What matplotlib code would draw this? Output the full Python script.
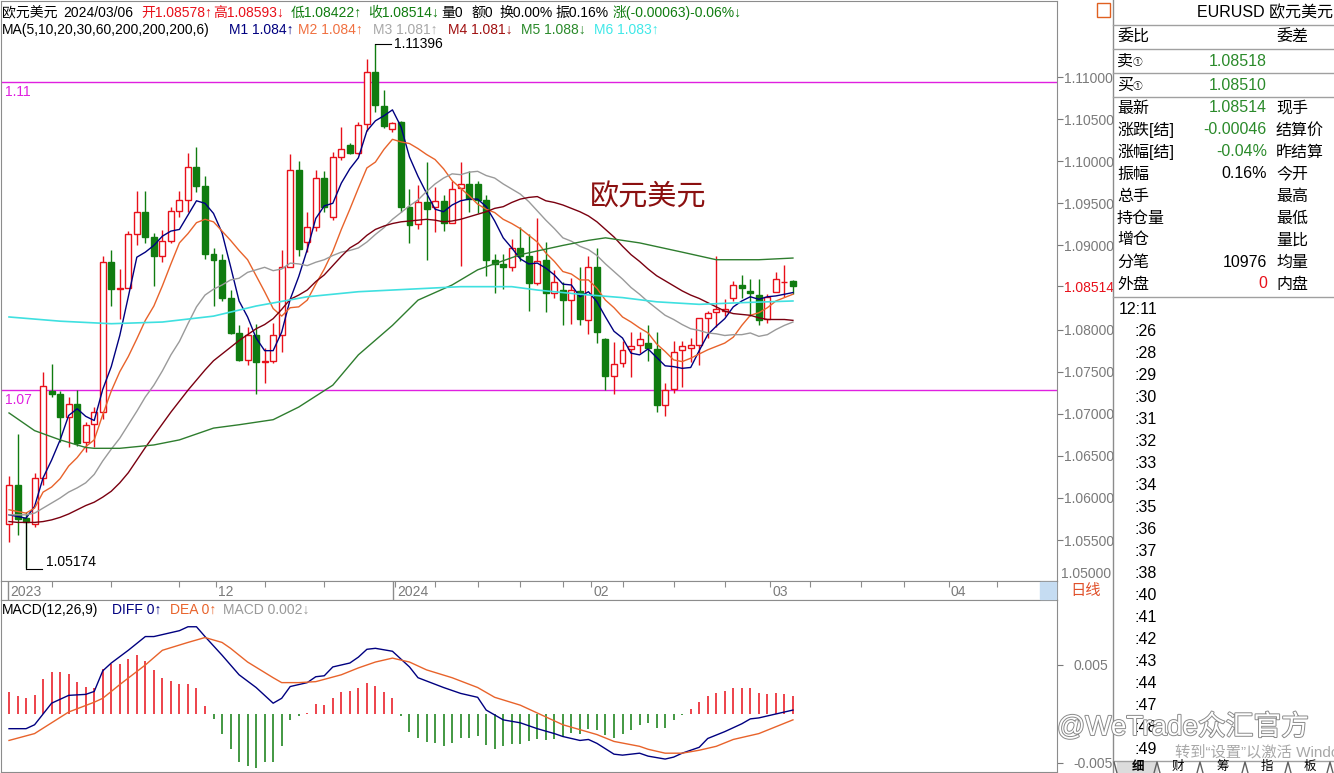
import matplotlib.pyplot as plt
import matplotlib.patheffects as pe
from matplotlib.lines import Line2D
from matplotlib.patches import Rectangle
import numpy as np

plt.rcParams['font.family'] = ['Liberation Sans', 'Noto Sans CJK SC', 'DejaVu Sans']

# daily candles, 2023-10-30 .. 2024-03-06
opens = [1.0569, 1.0615, 1.0576, 1.0569, 1.0624, 1.0727, 1.0724, 1.0696, 1.0712, 1.0667,
         1.0688, 1.0702, 1.0880, 1.0848, 1.0850, 1.0913, 1.0940, 1.0910, 1.0887, 1.0905,
         1.0941, 1.0954, 1.0993, 1.0970, 1.0890, 1.0883, 1.0837, 1.0796, 1.0764, 1.0793,
         1.0761, 1.0763, 1.0793, 1.0874, 1.0990, 1.0904, 1.0922, 1.0980, 1.0934, 1.1005,
         1.1019, 1.1010, 1.1044, 1.1106, 1.1066, 1.1038, 1.1047, 1.0946, 1.0925, 1.0951,
         1.0946, 1.0953, 1.0927, 1.0968, 1.0973, 1.0973, 1.0954, 1.0883, 1.0878, 1.0874,
         1.0897, 1.0887, 1.0855, 1.0883, 1.0843, 1.0847, 1.0835, 1.0846, 1.0811, 1.0874,
         1.0789, 1.0745, 1.0760, 1.0777, 1.0782, 1.0784, 1.0777, 1.0710, 1.0729, 1.0776,
         1.0778, 1.0782, 1.0814, 1.0821, 1.0822, 1.0838, 1.0853, 1.0846, 1.0841, 1.0813,
         1.0845, 1.0856, 1.08578]
highs = [1.0626, 1.0676, 1.0583, 1.0630, 1.0750, 1.0759, 1.0727, 1.0720, 1.0728, 1.0690,
         1.0708, 1.0887, 1.0895, 1.0872, 1.0917, 1.0965, 1.0965, 1.0915, 1.0918, 1.0946,
         1.0965, 1.1010, 1.1017, 1.0983, 1.0897, 1.0890, 1.0847, 1.0805, 1.0803, 1.0807,
         1.0778, 1.0808, 1.0895, 1.1009, 1.1000, 1.0940, 1.0990, 1.0988, 1.1011, 1.1041,
         1.1022, 1.1046, 1.1121, 1.11396, 1.1085, 1.1047, 1.1048, 1.0967, 1.0972, 1.0999,
         1.0969, 1.0960, 1.0976, 1.0999, 1.0988, 1.0977, 1.0960, 1.0890, 1.0890, 1.0908,
         1.0922, 1.0914, 1.0933, 1.0904, 1.0871, 1.0857, 1.0861, 1.0874, 1.0888, 1.0897,
         1.0790, 1.0785, 1.0786, 1.0797, 1.0797, 1.0805, 1.0797, 1.0736, 1.0786, 1.0787,
         1.0790, 1.0812, 1.0822, 1.0888, 1.0836, 1.0858, 1.0865, 1.0860, 1.0860, 1.0842,
         1.0868, 1.0877, 1.08593]
lows = [1.0548, 1.0556, 1.05174, 1.0565, 1.0615, 1.0720, 1.0667, 1.0661, 1.0662, 1.0655,
        1.0660, 1.0694, 1.0828, 1.0813, 1.0850, 1.0901, 1.0903, 1.0852, 1.0880, 1.0903,
        1.0934, 1.0940, 1.0963, 1.0884, 1.0828, 1.0834, 1.0795, 1.0763, 1.0758, 1.0723,
        1.0737, 1.0760, 1.0773, 1.0874, 1.0888, 1.0892, 1.0917, 1.0940, 1.0930, 1.1001,
        1.1008, 1.1008, 1.1036, 1.1058, 1.1040, 1.1035, 1.0940, 1.0903, 1.0920, 1.0883,
        1.0916, 1.0917, 1.0927, 1.0876, 1.0940, 1.0939, 1.0864, 1.0844, 1.0848, 1.0870,
        1.0881, 1.0822, 1.0853, 1.0821, 1.0838, 1.0805, 1.0807, 1.0805, 1.0795, 1.0784,
        1.0728, 1.0724, 1.0755, 1.0744, 1.0772, 1.0763, 1.0702, 1.0697, 1.0725, 1.0732,
        1.0762, 1.0758, 1.0790, 1.0803, 1.0816, 1.0834, 1.0837, 1.0816, 1.0805, 1.0808,
        1.0845, 1.0839, 1.08422]
closes = [1.0615, 1.0575, 1.0571, 1.0624, 1.0733, 1.0723, 1.0696, 1.0712, 1.0665, 1.0687,
          1.0702, 1.0880, 1.0848, 1.0850, 1.0913, 1.0940, 1.0910, 1.0887, 1.0905, 1.0941,
          1.0954, 1.0993, 1.0970, 1.0890, 1.0883, 1.0837, 1.0796, 1.0764, 1.0793, 1.0761,
          1.0763, 1.0793, 1.0874, 1.0990, 1.0896, 1.0922, 1.0980, 1.0946, 1.1005, 1.1015,
          1.1010, 1.1043, 1.1106, 1.1067, 1.1042, 1.1045, 1.0946, 1.0924, 1.0951, 1.0943,
          1.0953, 1.0927, 1.0967, 1.0973, 1.0955, 1.0954, 1.0883, 1.0878, 1.0874, 1.0897,
          1.0887, 1.0855, 1.0882, 1.0843, 1.0857, 1.0835, 1.0847, 1.0813, 1.0874, 1.0797,
          1.0745, 1.0759, 1.0776, 1.0781, 1.0789, 1.0778, 1.0710, 1.0728, 1.0773, 1.0780,
          1.0782, 1.0814, 1.0820, 1.0824, 1.0824, 1.0853, 1.0849, 1.0843, 1.0811, 1.0839,
          1.0860, 1.0857, 1.08514]

ma5 = [1.0580, 1.0578, 1.0576, 1.0590, 1.0624, 1.0645, 1.0669, 1.0698, 1.0706, 1.0697,
       1.0692, 1.0729, 1.0756, 1.0793, 1.0839, 1.0886, 1.0892, 1.0900, 1.0911, 1.0917,
       1.0919, 1.0936, 1.0953, 1.0950, 1.0938, 1.0915, 1.0875, 1.0834, 1.0815, 1.0790,
       1.0775, 1.0775, 1.0797, 1.0836, 1.0863, 1.0895, 1.0932, 1.0947, 1.0950, 1.0974,
       1.0991, 1.1004, 1.1036, 1.1048, 1.1054, 1.1061, 1.1041, 1.1005, 1.0982, 1.0962,
       1.0943, 1.0940, 1.0948, 1.0953, 1.0955, 1.0955, 1.0946, 1.0929, 1.0909, 1.0897,
       1.0884, 1.0878, 1.0879, 1.0873, 1.0865, 1.0854, 1.0853, 1.0839, 1.0845, 1.0833,
       1.0815, 1.0798, 1.0790, 1.0772, 1.0770, 1.0777, 1.0767, 1.0757, 1.0756, 1.0754,
       1.0755, 1.0775, 1.0794, 1.0804, 1.0813, 1.0827, 1.0834, 1.0839, 1.0836, 1.0839,
       1.0840, 1.0842, 1.0844]
ma10 = [1.0586, 1.0584, 1.0582, 1.0588, 1.0607, 1.0613, 1.0623, 1.0638, 1.0648, 1.0661,
        1.0669, 1.0699, 1.0727, 1.0750, 1.0768, 1.0789, 1.0811, 1.0828, 1.0852, 1.0878,
        1.0903, 1.0914, 1.0927, 1.0931, 1.0928, 1.0917, 1.0906, 1.0894, 1.0883, 1.0864,
        1.0845, 1.0825, 1.0816, 1.0826, 1.0827, 1.0835, 1.0854, 1.0872, 1.0893, 1.0919,
        1.0943, 1.0968, 1.0992, 1.0999, 1.1014, 1.1026, 1.1023, 1.1021, 1.1015, 1.1008,
        1.1002, 1.0991, 1.0977, 1.0968, 1.0959, 1.0949, 1.0943, 1.0939, 1.0931, 1.0926,
        1.0920, 1.0912, 1.0904, 1.0891, 1.0881, 1.0869, 1.0866, 1.0859, 1.0859, 1.0849,
        1.0835, 1.0826, 1.0815, 1.0809, 1.0802, 1.0796, 1.0783, 1.0774, 1.0764, 1.0762,
        1.0766, 1.0771, 1.0776, 1.0780, 1.0784, 1.0791, 1.0805, 1.0817, 1.0820, 1.0826,
        1.0834, 1.0838, 1.0842]
ma20 = [1.0580, 1.0580, 1.0580, 1.0582, 1.0588, 1.0594, 1.0600, 1.0607, 1.0612, 1.0618,
        1.0628, 1.0644, 1.0658, 1.0671, 1.0687, 1.0703, 1.0720, 1.0734, 1.0751, 1.0770,
        1.0786, 1.0807, 1.0827, 1.0841, 1.0848, 1.0853, 1.0859, 1.0861, 1.0868, 1.0871,
        1.0874, 1.0870, 1.0872, 1.0879, 1.0878, 1.0876, 1.0880, 1.0883, 1.0888, 1.0892,
        1.0894, 1.0897, 1.0904, 1.0913, 1.0921, 1.0931, 1.0939, 1.0947, 1.0954, 1.0964,
        1.0973, 1.0980, 1.0985, 1.0984, 1.0987, 1.0988, 1.0983, 1.0980, 1.0973, 1.0967,
        1.0961, 1.0952, 1.0941, 1.0930, 1.0920, 1.0909, 1.0905, 1.0899, 1.0895, 1.0888,
        1.0878, 1.0869, 1.0860, 1.0850, 1.0842, 1.0833, 1.0825, 1.0817, 1.0812, 1.0806,
        1.0801, 1.0799, 1.0796, 1.0795, 1.0793, 1.0794, 1.0794, 1.0796, 1.0792, 1.0794,
        1.0800, 1.0805, 1.0809]
ma30 = [1.0572, 1.0571, 1.0571, 1.0571, 1.0572, 1.0574, 1.0577, 1.0581, 1.0586, 1.0591,
        1.0595, 1.0601, 1.0608, 1.0618, 1.0630, 1.0645, 1.0660, 1.0674, 1.0688, 1.0702,
        1.0715, 1.0728, 1.0740, 1.0752, 1.0763, 1.0771, 1.0779, 1.0787, 1.0794, 1.0801,
        1.0806, 1.0813, 1.0824, 1.0836, 1.0841, 1.0847, 1.0857, 1.0865, 1.0876, 1.0887,
        1.0897, 1.0903, 1.0912, 1.0919, 1.0923, 1.0926, 1.0928, 1.0929, 1.0930, 1.0931,
        1.0930, 1.0928, 1.0929, 1.0931, 1.0934, 1.0937, 1.0940, 1.0944, 1.0946, 1.0951,
        1.0955, 1.0957, 1.0958, 1.0953, 1.0951, 1.0948, 1.0944, 1.0940, 1.0935, 1.0928,
        1.0919, 1.0910, 1.0899, 1.0889, 1.0881, 1.0872, 1.0864, 1.0858, 1.0852, 1.0846,
        1.0841, 1.0837, 1.0832, 1.0827, 1.0822, 1.0819, 1.0818, 1.0817, 1.0814, 1.0812,
        1.0812, 1.0812, 1.0811]
ma60_idx = [0, 3, 6, 9, 10, 13, 17, 20, 24, 27, 31, 34, 38, 41, 45, 48, 52, 55, 60, 65,
            68, 70, 74, 79, 83, 88, 92]
ma60 = [1.0701, 1.0680, 1.0669, 1.0660, 1.0659, 1.0659, 1.0663, 1.0669, 1.0683, 1.0687,
        1.0693, 1.0708, 1.0734, 1.0770, 1.0805, 1.0835, 1.0853, 1.0871, 1.0889, 1.0900,
        1.0906, 1.0909, 1.0903, 1.0892, 1.0883, 1.0883, 1.0885]
ma200_idx = [0, 6, 12, 18, 24, 29, 35, 41, 47, 53, 59, 62, 67, 72, 76, 81, 86, 92]
ma200 = [1.0815, 1.0810, 1.0807, 1.0809, 1.0816, 1.0828, 1.0839, 1.0845, 1.0848, 1.0851,
         1.0851, 1.0847, 1.0842, 1.0838, 1.0833, 1.0830, 1.0832, 1.0834]

macd_hist = [0.0022, 0.0018, 0.0016, 0.0019, 0.0036, 0.0043, 0.0043, 0.0041, 0.0033, 0.0028,
             0.0026, 0.0046, 0.0051, 0.0051, 0.0056, 0.0060, 0.0054, 0.0045, 0.0037, 0.0034,
             0.0031, 0.0031, 0.0026, 0.0008, -0.0005, -0.0020, -0.0036, -0.0049, -0.0053, -0.0055,
             -0.0049, -0.0049, -0.0033, -0.0006, -0.0002, 0.0001, 0.0010, 0.0009, 0.0016, 0.0022,
             0.0023, 0.0026, 0.0032, 0.0029, 0.0022, 0.0016, -0.0002, -0.0018, -0.0024, -0.0029,
             -0.0030, -0.0033, -0.0030, -0.0024, -0.0024, -0.0022, -0.0032, -0.0036, -0.0033, -0.0031,
             -0.0031, -0.0028, -0.0026, -0.0027, -0.0026, -0.0023, -0.0019, -0.0020, -0.0015, -0.0016,
             -0.0021, -0.0024, -0.0020, -0.0016, -0.0011, -0.0009, -0.0014, -0.0014, -0.0006, -0.0001,
             0.0005, 0.0012, 0.0018, 0.0021, 0.0023, 0.0026, 0.0027, 0.0026, 0.0021, 0.0020,
             0.0021, 0.0020, 0.0018]
diff_idx = [0, 2, 3, 5, 7, 9, 10, 11, 12, 14, 16, 17, 19, 20, 21, 22, 23, 25, 27, 29,
            31, 32, 33, 35, 36, 37, 38, 40, 41, 42, 43, 45, 47, 48, 51, 53, 55, 56, 58, 60,
            62, 64, 65, 67, 68, 69, 71, 72, 74, 75, 77, 78, 79, 81, 82, 84, 86, 87, 88, 90, 92]
diff = [-0.0015, -0.0015, -0.0011, 0.0011, 0.0019, 0.0020, 0.0023, 0.0044, 0.0052, 0.0065,
        0.0079, 0.0079, 0.0083, 0.0085, 0.0089, 0.0089, 0.0079, 0.0060, 0.0040, 0.0027,
        0.0011, 0.0016, 0.0028, 0.0032, 0.0038, 0.0039, 0.0048, 0.0052, 0.0058, 0.0066,
        0.0067, 0.0064, 0.0048, 0.0037, 0.0027, 0.0021, 0.0017, 0.0004, -0.0006, -0.0009,
        -0.0015, -0.0020, -0.0023, -0.0027, -0.0026, -0.0030, -0.0041, -0.0042, -0.0040, -0.0043,
        -0.0046, -0.0044, -0.0040, -0.0034, -0.0025, -0.0018, -0.0010, -0.0005, -0.0004, 0.0000,
        0.0004]
dea_idx = [0, 3, 5, 7, 10, 11, 13, 16, 18, 21, 23, 25, 26, 28, 31, 32, 34, 36, 39, 41,
           43, 45, 47, 49, 52, 55, 57, 60, 62, 65, 67, 69, 71, 74, 75, 77, 79, 81, 83, 85,
           88, 90, 92]
dea = [-0.0027, -0.0020, -0.0009, 0.0002, 0.0012, 0.0016, 0.0030, 0.0050, 0.0065, 0.0073,
       0.0078, 0.0073, 0.0067, 0.0053, 0.0037, 0.0032, 0.0032, 0.0033, 0.0040, 0.0047,
       0.0053, 0.0057, 0.0053, 0.0045, 0.0037, 0.0027, 0.0017, 0.0009, 0.0001, -0.0011,
       -0.0016, -0.0021, -0.0028, -0.0033, -0.0036, -0.0040, -0.0040, -0.0037, -0.0033, -0.0026,
       -0.0020, -0.0013, -0.0006]

level_values = [1.1094, 1.0728]
level_labels = ['1.11', '1.07']
y_ticks = [1.055, 1.060, 1.065, 1.070, 1.075, 1.080, 1.090, 1.095, 1.100, 1.105, 1.110]
price_now = 1.08514
month_idx = [24, 45, 68, 89, 110]
month_labels = ['12', '2024', '02', '03', '04']
week_ticks = [5, 12, 20, 30, 37, 50, 55, 60, 65, 72, 78, 84, 94, 100, 105, 116]
times = ['12:11', ':26', ':28', ':29', ':30', ':31', ':32', ':33', ':34', ':35', ':36',
         ':37', ':38', ':40', ':41', ':42', ':43', ':44', ':47', ':48', ':49']

W, H = 1334, 773
fig = plt.figure(figsize=(W / 100, H / 100), dpi=100)


def fx(px):
    return px / W


def fy(py):
    return 1 - py / H


def ftext(px, py, s, color='black', size=10, ha='left', va='center', **kw):
    fig.text(fx(px), fy(py), s, color=color, fontsize=size, ha=ha, va=va, **kw)


def fline(xs, ys, color='#8c8c8c', lw=1):
    fig.add_artist(Line2D([fx(v) for v in xs], [fy(v) for v in ys], color=color, lw=lw))


grey = '#8c8c8c'
label_grey = '#7a7a7a'
red = '#e8101a'
green = '#107c10'
xlim = (-0.94, 122.99)

# ---- main candle chart ----
ax = fig.add_axes([fx(1), fy(581), fx(1057) - fx(1), 580 / H])
n = len(closes)
x = np.arange(n)
o, h, l, c = map(np.array, (opens, highs, lows, closes))
up = c >= o
cols = [red if u else green for u in up]
ax.vlines(x, l, h, colors=cols, lw=1, zorder=2)
ax.bar(x, np.maximum(np.abs(c - o), 0.00004), bottom=np.minimum(o, c), width=0.7,
       color=['white' if u else green for u in up], edgecolor=cols, linewidth=1, zorder=3)

ax.plot(x, ma5, color='#000080', lw=1, zorder=4)
ax.plot(x, ma10, color='#e8632b', lw=1, zorder=4)
ax.plot(x, ma20, color='#9a9a9a', lw=1, zorder=4)
ax.plot(x, ma30, color='#7a0010', lw=1, zorder=4)
ax.plot(ma60_idx, ma60, color='#2e7d2e', lw=1, zorder=4)
ax.plot(ma200_idx, ma200, color='#3fe0e0', lw=1.2, zorder=4)

for lv, lab in zip(level_values, level_labels):
    ax.axhline(lv, color='#e020e0', lw=1, zorder=1)
    ax.annotate(lab, (xlim[0], lv), xytext=(3, -2), textcoords='offset points',
                va='top', ha='left', color='#e020e0', fontsize=10)

# highest / lowest markers
hi = int(np.argmax(h))
lo = int(np.argmin(l))
ax.plot([hi, hi + 1.8], [h[hi], h[hi]], color='black', lw=0.8, zorder=5)
ax.text(hi + 2.2, h[hi], f'{h[hi]:.5f}', va='center', fontsize=10, zorder=5)
ax.plot([lo, lo], [l[lo] - 0.0002, np.minimum(o, c)[lo]], color='black', lw=0.8, zorder=5)
ax.plot([lo, lo + 1.9], [l[lo] - 0.0002, l[lo] - 0.0002], color='black', lw=0.8, zorder=5)
ax.text(lo + 2.3, l[lo] - 0.0002, f'{l[lo]:.5f}', va='bottom', fontsize=10, zorder=5)

ax.set_xlim(*xlim)
ax.set_ylim(1.05014, 1.11903)
ax.set_xticks([])
ax.yaxis.tick_right()
ticks = y_ticks + [price_now]
ax.set_yticks(ticks)
ax.set_yticklabels([f'{t:.5f}' for t in ticks])
ax.tick_params(axis='y', colors=label_grey, length=4, labelsize=10, pad=1)
for lbl, t in zip(ax.get_yticklabels(), ticks):
    if t == price_now:
        lbl.set_color(red)
for s in ax.spines.values():
    s.set_color(grey)
ftext(1061, 574, '1.05000', label_grey, 10)

ftext(648, 198, '欧元美元', '#8b1010', 21, ha='center',
      family=['Noto Sans CJK SC'])

# ---- date strip ----
axd = fig.add_axes([fx(1), fy(600), fx(1057) - fx(1), 19 / H])
axd.set_xlim(*xlim)
axd.set_ylim(0, 1)
axd.set_yticks([])
axd.set_xticks(week_ticks + [m + 0.3 for m in month_idx])
axd.tick_params(axis='x', direction='in', top=True, bottom=False, length=4,
                color=grey, labelbottom=False)
for s in axd.spines.values():
    s.set_color(grey)
axd.axvline(-0.1, color=grey, lw=1)
axd.axvline(45.1, color=grey, lw=1)
axd.text(0.15, 0.42, '2023', color=label_grey, fontsize=10, va='center')
for m, lab in zip(month_idx, month_labels):
    axd.text(m + 0.55, 0.42, lab, color=label_grey, fontsize=10, va='center')
fig.add_artist(Rectangle((fx(1040), fy(599)), fx(16), 17 / H, transform=fig.transFigure,
                         color='#c5dcf2', zorder=5))
ftext(1070, 591, '日线', '#e0502a', 11)

# ---- MACD panel ----
ax2 = fig.add_axes([fx(1), fy(772), fx(1057) - fx(1), 172 / H])
ax2.vlines(x, 0, macd_hist, colors=[red if v >= 0 else green for v in macd_hist], lw=1.1)
ax2.plot(diff_idx, diff, color='#000080', lw=1)
ax2.plot(dea_idx, dea, color='#e8632b', lw=1)
ax2.set_xlim(*xlim)
ax2.set_ylim(-0.00592, 0.01163)
ax2.set_xticks([])
ax2.yaxis.tick_right()
ax2.set_yticks([0.005, -0.005])
ax2.set_yticklabels(['0.005', '-0.005'])
ax2.tick_params(axis='y', colors=label_grey, length=4, labelsize=10, pad=8)
for s in ax2.spines.values():
    s.set_color(grey)

# ---- header texts ----
ftext(2, 13, '欧元美元')
ftext(63, 13, '2024/03/06')
ftext(141, 13, '开1.08578↑', red)
ftext(213, 13, '高1.08593↓', red)
ftext(291, 13, '低1.08422↑', green)
ftext(368, 13, '收1.08514↓', green)
ftext(441, 13, '量0')
ftext(471, 13, '额0')
ftext(499, 13, '换0.00%')
ftext(555, 13, '振0.16%')
ftext(613, 13, '涨(-0.00063)-0.06%↓', green)

ftext(2, 30, 'MA(5,10,20,30,60,200,200,200,6)')
ftext(229, 30, 'M1 1.084↑', '#000080')
ftext(298, 30, 'M2 1.084↑', '#f07040')
ftext(373, 30, 'M3 1.081↑', '#a8a8a8')
ftext(448, 30, 'M4 1.081↓', '#a01010')
ftext(521, 30, 'M5 1.088↓', '#2a8a2a')
ftext(594, 30, 'M6 1.083↑', '#40e8e8')

ftext(2, 610, 'MACD(12,26,9)')
ftext(112, 610, 'DIFF 0↑', '#000080')
ftext(170, 610, 'DEA 0↑', '#e8632b')
ftext(223, 610, 'MACD 0.002↓', '#9a9a9a')

# ---- right info panel ----
fline([1113, 1113], [0, 773])
fig.add_artist(Rectangle((fx(1097), fy(17)), fx(13), 14 / H, transform=fig.transFigure,
                         fill=False, edgecolor='#e06020', lw=1))
vg = '#2a8a2a'
ps = 11.5
ftext(1333, 13, 'EURUSD 欧元美元', size=ps, ha='right')
for py in [25, 49, 73, 97, 297, 761]:
    fline([1113, 1334], [py, py], color='#a0a0a0')
ftext(1117, 37, '委比', size=ps)
ftext(1276, 37, '委差', size=ps)
ftext(1117, 61, '卖', size=ps)
ftext(1133, 62, '①', size=7)
ftext(1267, 61, '1.08518', vg, ps, ha='right')
ftext(1117, 85, '买', size=ps)
ftext(1133, 86, '①', size=7)
ftext(1267, 85, '1.08510', vg, ps, ha='right')
rows = [('最新', '1.08514', vg, '现手'),
        ('涨跌[结]', '-0.00046', vg, '结算价'),
        ('涨幅[结]', '-0.04%', vg, '昨结算'),
        ('振幅', '0.16%', 'black', '今开'),
        ('总手', '', 'black', '最高'),
        ('持仓量', '', 'black', '最低'),
        ('增仓', '', 'black', '量比'),
        ('分笔', '10976', 'black', '均量'),
        ('外盘', '0', red, '内盘')]
for i, (a, v, vc, b) in enumerate(rows):
    py = 108 + i * 22
    ftext(1117, py, a, size=ps)
    ftext(1267, py, v, vc, ps, ha='right')
    ftext(1276, py, b, size=ps)
for i, tm in enumerate(times):
    ftext(1157, 310 + i * 21.95, tm, size=ps, ha='right')

# bottom tabs
fig.add_artist(Rectangle((fx(1117), fy(773)), fx(40), 11 / H, transform=fig.transFigure,
                         color='#dcdcdc', zorder=1))
for tx, tab in zip([1138, 1178, 1223, 1267, 1310], ['细', '财', '筹', '指', '板']):
    ftext(tx, 767, tab, size=9, ha='center', weight='bold' if tab == '细' else 'normal')
for bx in [1157, 1200, 1245, 1288, 1330]:
    fline([bx - 3, bx, bx + 3], [773, 762, 773], color='#606060')
fline([1114, 1117], [762, 773], color='#606060')

# watermarks
ftext(1057, 727, '@WeTrade众汇官方', 'white', 20, zorder=10,
      path_effects=[pe.withStroke(linewidth=1.4, foreground='#8a8a8a')])
ftext(1175, 752, '转到“设置”以激活 Windows', '#a8a8a8', 11, zorder=10)

fig.savefig('out.png', dpi=100)
